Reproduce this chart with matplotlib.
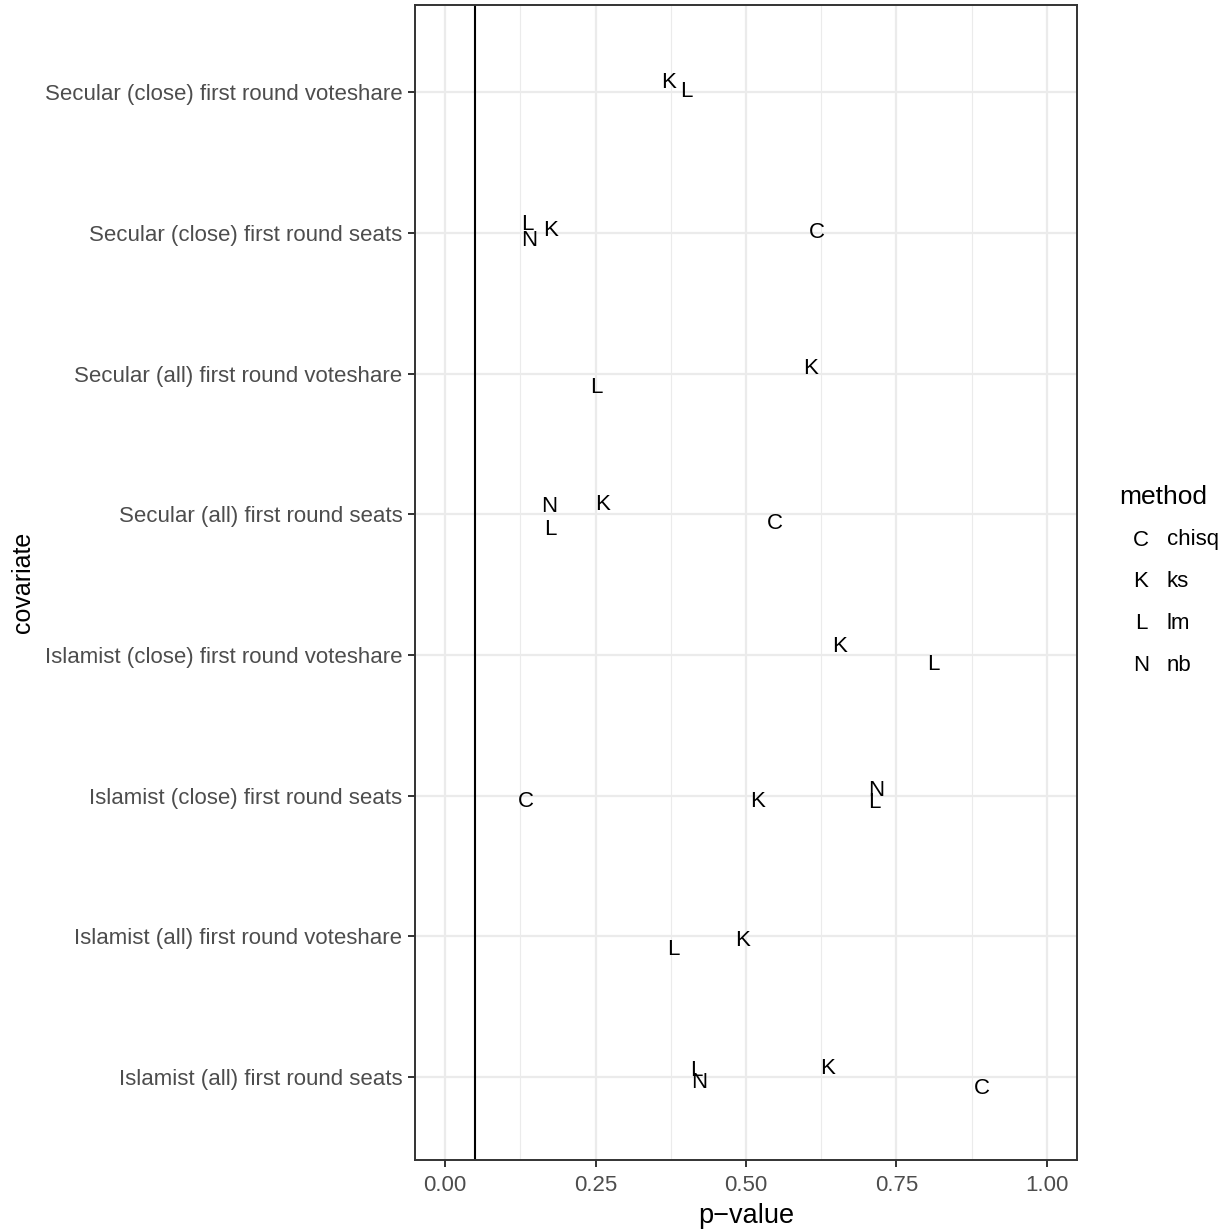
import numpy as np
import matplotlib.pyplot as plt
import matplotlib.transforms as mtransforms
from matplotlib.ticker import MultipleLocator

plt.rcParams['font.family'] = ['Liberation Sans', 'DejaVu Sans']

# covariates, bottom to top
covariates = [
    'Islamist (all) first round seats',
    'Islamist (all) first round voteshare',
    'Islamist (close) first round seats',
    'Islamist (close) first round voteshare',
    'Secular (all) first round seats',
    'Secular (all) first round voteshare',
    'Secular (close) first round seats',
    'Secular (close) first round voteshare',
]
methods = ['chisq', 'ks', 'lm', 'nb']
method_letters = ['C', 'K', 'L', 'N']

# one row per test: covariate, method, p-value, vertical jitter
pt_covariate = [7, 7,
                6, 6, 6, 6,
                5, 5,
                4, 4, 4, 4,
                3, 3,
                2, 2, 2, 2,
                1, 1,
                0, 0, 0, 0]
pt_method = ['ks', 'lm',
             'lm', 'nb', 'ks', 'chisq',
             'ks', 'lm',
             'nb', 'ks', 'lm', 'chisq',
             'ks', 'lm',
             'chisq', 'ks', 'nb', 'lm',
             'lm', 'ks',
             'lm', 'nb', 'ks', 'chisq']
pt_pvalue = [0.371, 0.400,
             0.136, 0.140, 0.175, 0.617,
             0.608, 0.251,
             0.173, 0.261, 0.175, 0.548,
             0.655, 0.811,
             0.135, 0.519, 0.716, 0.714,
             0.380, 0.494,
             0.418, 0.422, 0.635, 0.892]
pt_jitter = [0.075, 0.012,
             0.067, -0.047, 0.024, 0.012,
             0.040, -0.095,
             0.060, 0.075, -0.100, -0.062,
             0.065, -0.062,
             -0.035, -0.035, 0.045, -0.040,
             -0.085, -0.020,
             0.055, -0.035, 0.070, -0.078]

alpha_line = 0.05

fig = plt.figure(figsize=(12.30, 12.32), dpi=100)
ax = fig.add_axes([415 / 1230, 1 - 1160 / 1232, 662 / 1230, 1155 / 1232])

ypos = np.arange(1, len(covariates) + 1)
letter_of = dict(zip(methods, method_letters))
trans = mtransforms.offset_copy(ax.transData, fig=fig, y=-1, units='dots')
for c, m, p, j in zip(pt_covariate, pt_method, pt_pvalue, pt_jitter):
    ax.text(p, ypos[c] + j, letter_of[m], ha='center', va='center',
            fontsize=16, color='black', zorder=3, transform=trans)

ax.axvline(alpha_line, color='black', lw=1.5, zorder=2)

ax.set_xlim(-0.05, 1.05)
ax.set_ylim(0.41, 8.62)
ax.xaxis.set_minor_locator(MultipleLocator(0.125))
ax.set_xticks([0, 0.25, 0.5, 0.75, 1.0])
ax.set_xticklabels(['0.00', '0.25', '0.50', '0.75', '1.00'])
ax.set_yticks(ypos)
ax.set_yticklabels(covariates)

ax.grid(which='major', color='#EBEBEB', lw=1.6, zorder=0)
ax.grid(which='minor', axis='x', color='#EBEBEB', lw=0.8, zorder=0)
ax.set_axisbelow(True)
for s in ax.spines.values():
    s.set_color('#333333')
    s.set_linewidth(1.4)
ax.tick_params(which='major', length=5, width=1.4, color='#333333',
               labelcolor='#4D4D4D', labelsize=16)
ax.tick_params(axis='x', pad=6)
ax.tick_params(axis='y', pad=4)
ax.tick_params(which='minor', length=0)

ax.set_xlabel('p\u2212value', fontsize=19.5, color='black')
ax.xaxis.set_label_coords(0.5, -63 / 1155)
ax.xaxis.label.set_va('baseline')
ax.set_ylabel('covariate', fontsize=18, color='black')
ax.yaxis.set_label_coords(-392 / 662, 0.5)
ax.yaxis.label.set_va('center')

# legend
fig.text(1119 / 1230, 1 - 504 / 1232, 'method', fontsize=19, va='baseline', ha='left')
for i, (lt, m) in enumerate(zip(method_letters, methods)):
    yy = 1 - (540 + i * 41.7) / 1232
    fig.text(1141 / 1230, yy, lt, fontsize=16, va='center', ha='center')
    fig.text(1167 / 1230, yy, m, fontsize=16, va='center', ha='left')

fig.savefig('out.png', dpi=100, facecolor='white')
